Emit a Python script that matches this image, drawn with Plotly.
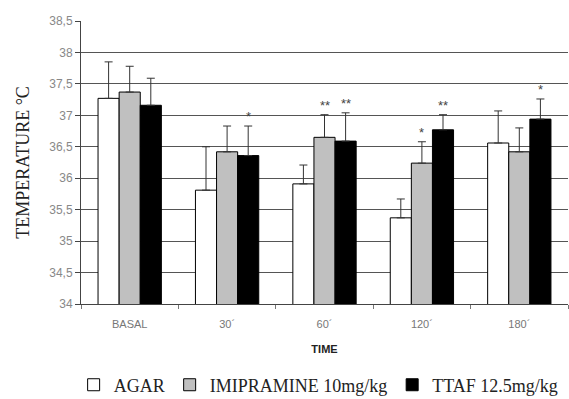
import plotly.graph_objects as go

categories = ["BASAL", "30´", "60´", "120´", "180´"]
series_names = ["AGAR", "IMIPRAMINE 10mg/kg", "TTAF 12.5mg/kg"]
agar = [37.27, 35.81, 35.91, 35.37, 36.56]
agar_err = [0.58, 0.69, 0.30, 0.30, 0.51]
imip = [37.37, 36.42, 36.65, 36.24, 36.42]
imip_err = [0.41, 0.41, 0.36, 0.34, 0.38]
ttaf = [37.16, 36.36, 36.59, 36.77, 36.94]
ttaf_err = [0.43, 0.47, 0.45, 0.24, 0.32]
# significance marks (series index, category index, label)
marks = [(2, 1, "*"), (1, 2, "**"), (2, 2, "**"), (1, 3, "*"), (2, 3, "**"), (2, 4, "*")]

colors = ["#ffffff", "#c0c0c0", "#000000"]
values = [agar, imip, ttaf]
errs = [agar_err, imip_err, ttaf_err]

fig = go.Figure()
for name, v, e, c in zip(series_names, values, errs, colors):
    fig.add_trace(go.Bar(
        x=categories, y=v, name=name,
        marker=dict(color=c, line=dict(color="#000000", width=1)),
        error_y=dict(type="data", symmetric=False, array=e, arrayminus=[0] * len(e),
                     color="#333333", thickness=1, width=4),
    ))

bar_px = 21
for s, ci, lab in marks:
    fig.add_annotation(
        x=categories[ci], y=values[s][ci] + errs[s][ci], text=lab,
        xref="x", yref="y", showarrow=False, yanchor="bottom",
        xshift=(s - 1) * bar_px, yshift=0,
        font=dict(family="Arial", size=13, color="#444444"),
    )

fig.update_layout(
    width=569, height=399,
    margin=dict(l=81, r=1, t=21, b=95, autoexpand=False),
    paper_bgcolor="white", plot_bgcolor="white",
    barmode="group", bargap=0.35, bargroupgap=0.0,
    separators=",.",
    showlegend=True,
    legend=dict(orientation="h", x=0.56, xanchor="center", xref="container",
                y=0.035, yanchor="middle", yref="container",
                font=dict(family="Liberation Serif", size=18, color="#222222"),
                itemwidth=30, tracegroupgap=0),
    xaxis=dict(
        title=dict(text="<b>TIME</b>", font=dict(family="Arial", size=11, color="#222222"), standoff=16),
        tickfont=dict(family="Arial", size=11, color="#777777"),
        ticklabelstandoff=10,
        showline=True, linecolor="#444444", linewidth=1,
        ticks="outside", tickson="boundaries", ticklen=4, tickcolor="#777777",
        showgrid=False,
    ),
    yaxis=dict(
        title=dict(text="TEMPERATURE °C", font=dict(family="Liberation Serif", size=18, color="#222222"), standoff=14),
        range=[34, 38.5], dtick=0.5, tick0=34,
        tickfont=dict(family="Arial", size=12, color="#888888"),
        showline=True, linecolor="#444444", linewidth=1,
        ticks="outside", ticklen=5, tickcolor="#444444",
        showgrid=True, gridcolor="#555555", gridwidth=1,
        zeroline=False,
    ),
)

fig.write_html("out.html")
